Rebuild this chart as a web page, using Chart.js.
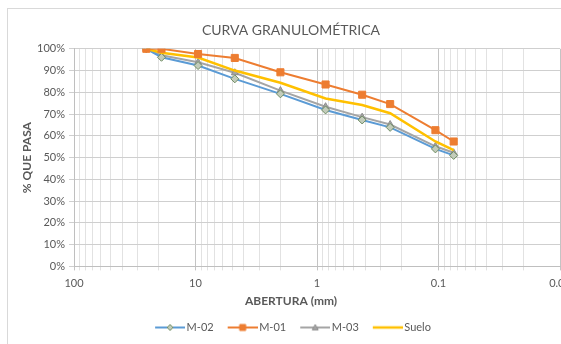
<!DOCTYPE html>
<html>
<head>
<meta charset="utf-8">
<script src="https://cdn.jsdelivr.net/npm/chart.js@4.4.1/dist/chart.umd.min.js"></script>
<style>
html, body { margin: 0; padding: 0; background: #fff; overflow: hidden; width: 561px; height: 344px; }
#frame { position: absolute; left: 7px; top: 8px; width: 600px; height: 400px; border: 1px solid #d9d9d9; }
#wrap { position: absolute; left: 0; top: 0; width: 566px; height: 344px; }
</style>
</head>
<body>
<div id="frame"></div>
<div id="wrap"><canvas id="chart"></canvas></div>
<script>
// sieve openings (mm) and % passing per sample
const aberturas = [25.4, 19.05, 9.525, 4.75, 2.0, 0.85, 0.425, 0.25, 0.106, 0.075];
const m02 = [100, 96.1, 92.3, 86.2, 79.3, 71.9, 67.3, 63.9, 54.0, 51.0];
const m01 = [100, 100, 97.6, 95.8, 89.2, 83.6, 78.9, 74.6, 62.6, 57.4];
const m03 = [100, 97.0, 93.8, 89.0, 80.8, 73.4, 68.6, 65.2, 55.2, 52.2];
const suelo = [100, 98.2, 96.0, 90.0, 84.4, 77.2, 74.2, 70.4, 57.4, 53.4];

const xTickLabels = ["100", "10", "1", "0.1", "0.01"];
const FONT = 'Lato, "Open Sans", sans-serif';
const TXT = "#595959";

function toXY(vals) {
    return aberturas.map((a, i) => ({ x: a, y: vals[i] }));
}

function isDecade(v) {
    const l = Math.log10(v);
    return Math.abs(l - Math.round(l)) < 1e-9;
}

// all 1..9 x 10^n gridline positions between the labelled decades
function logTicks() {
    const decades = xTickLabels.map(parseFloat).sort((a, b) => a - b);
    const out = [];
    for (let i = 0; i < decades.length - 1; i++) {
        for (let k = 1; k <= 9; k++) out.push(decades[i] * k);
    }
    out.push(decades[decades.length - 1]);
    return out;
}

function drawMarker(g, style, x, y, r) {
    g.beginPath();
    if (style === "rect") {
        g.rect(x - r, y - r, 2 * r, 2 * r);
    } else if (style === "rectRot") {
        g.moveTo(x, y - r); g.lineTo(x + r, y); g.lineTo(x, y + r); g.lineTo(x - r, y); g.closePath();
    } else if (style === "triangle") {
        g.moveTo(x, y - r); g.lineTo(x + r, y + r * 0.8); g.lineTo(x - r, y + r * 0.8); g.closePath();
    }
    g.fill();
    g.stroke();
}

// excel-like legend key: line with the marker on it
function legendIcon(ds) {
    const c = document.createElement("canvas");
    c.width = 38; c.height = 12;
    const g = c.getContext("2d");
    g.strokeStyle = ds.borderColor;
    g.lineWidth = ds.borderWidth;
    g.beginPath(); g.moveTo(8, 6); g.lineTo(38, 6); g.stroke();
    if (ds.pointRadius > 0) {
        g.fillStyle = ds.pointBackgroundColor;
        g.strokeStyle = ds.pointBorderColor;
        g.lineWidth = 1;
        drawMarker(g, ds.pointStyle, 23, 6, 3);
    }
    return c;
}

const datasets = [
    {
        label: "M-02", data: toXY(m02), order: 2,
        borderColor: "#5B9BD5", borderWidth: 2,
        pointStyle: "rectRot", pointRadius: 4,
        pointBackgroundColor: "#C3CCBB", pointBorderColor: "#6F8C62", pointBorderWidth: 1
    },
    {
        label: "M-01", data: toXY(m01), order: 0,
        borderColor: "#ED7D31", borderWidth: 2,
        pointStyle: "rect", pointRadius: 5,
        pointBackgroundColor: "#ED7D31", pointBorderColor: "#ED7D31", pointBorderWidth: 1
    },
    {
        label: "M-03", data: toXY(m03), order: 3,
        borderColor: "#A5A5A5", borderWidth: 2,
        pointStyle: "triangle", pointRadius: 4,
        pointBackgroundColor: "#A5A5A5", pointBorderColor: "#8E8E8E", pointBorderWidth: 1
    },
    {
        label: "Suelo", data: toXY(suelo), order: 1,
        borderColor: "#FFC000", borderWidth: 2.5,
        pointRadius: 0
    }
];

new Chart(document.getElementById("chart"), {
    type: "line",
    data: { datasets: datasets },
    options: {
        responsive: true,
        maintainAspectRatio: false,
        animation: false,
        devicePixelRatio: 1,
        layout: { padding: { left: 16, top: 10, right: 0, bottom: 1 } },
        elements: { line: { tension: 0 } },
        plugins: {
            tooltip: { enabled: false },
            title: {
                display: true,
                text: "CURVA GRANULOMÉTRICA",
                color: TXT,
                font: { family: FONT, size: 14, weight: "normal" },
                padding: { top: 12, bottom: 10 }
            },
            legend: {
                position: "bottom",
                title: {
                    display: true,
                    text: "ABERTURA (mm)",
                    color: TXT,
                    font: { family: FONT, size: 12, weight: "bold" },
                    padding: { top: 0, bottom: 2 }
                },
                labels: {
                    usePointStyle: true,
                    pointStyleWidth: 30,
                    padding: 10,
                    color: TXT,
                    font: { family: FONT, size: 11 },
                    generateLabels: chart => chart.data.datasets.map((ds, i) => ({
                        text: ds.label,
                        pointStyle: legendIcon(ds),
                        fillStyle: ds.borderColor,
                        strokeStyle: ds.borderColor,
                        lineWidth: 0,
                        fontColor: TXT,
                        hidden: !chart.isDatasetVisible(i),
                        datasetIndex: i
                    }))
                }
            }
        },
        scales: {
            x: {
                type: "logarithmic",
                reverse: true,
                min: 0.01,
                max: 100,
                afterBuildTicks: scale => {
                    scale.ticks = logTicks().map(v => ({ value: v }));
                },
                ticks: {
                    autoSkip: false,
                    maxRotation: 0,
                    padding: 6,
                    color: TXT,
                    font: { family: FONT, size: 11 },
                    callback: v => {
                        if (!isDecade(v)) return "";
                        const lbl = xTickLabels.find(t => Math.abs(parseFloat(t) - v) < v * 1e-6);
                        return lbl || "";
                    }
                },
                grid: {
                    tickLength: 4,
                    color: ctx => (ctx.tick && isDecade(ctx.tick.value)) ? "#C4C4C4" : "#E2E2E2"
                },
                border: { color: "#BFBFBF" }
            },
            y: {
                min: 0,
                max: 100,
                afterFit: scale => { scale.width = 58; },
                ticks: {
                    stepSize: 10,
                    padding: 4,
                    color: TXT,
                    font: { family: FONT, size: 11 },
                    callback: v => v + "%"
                },
                grid: { tickLength: 5, color: "#CFCFCF" },
                border: { color: "#BFBFBF" },
                title: {
                    display: true,
                    text: "% QUE PASA",
                    color: TXT,
                    font: { family: FONT, size: 12, weight: "bold" },
                    padding: { top: 4, bottom: 0 }
                }
            }
        }
    }
});
</script>
</body>
</html>
